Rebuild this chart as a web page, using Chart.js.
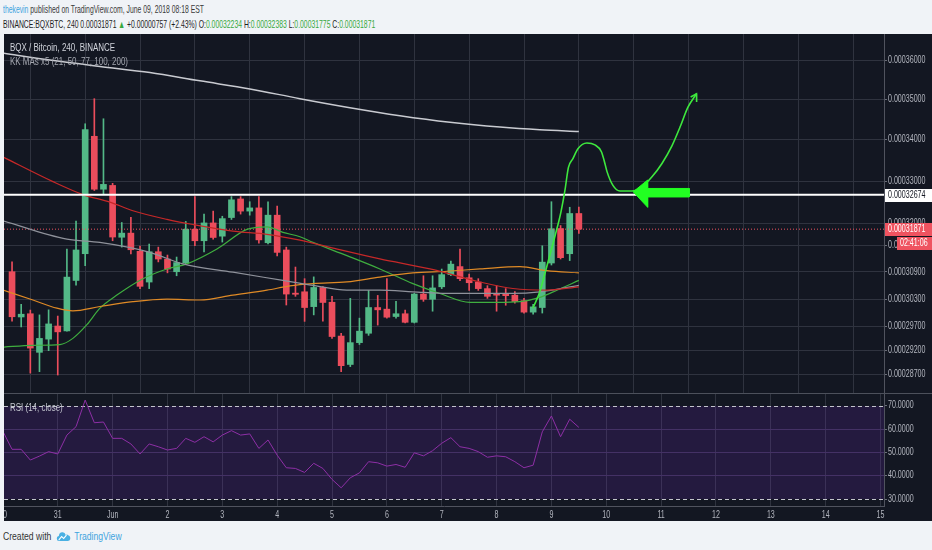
<!DOCTYPE html>
<html>
<head>
<meta charset="utf-8">
<script src="https://cdn.jsdelivr.net/npm/chart.js@4.4.0/dist/chart.umd.min.js"></script>
<style>
  html, body { margin: 0; padding: 0; }
  body {
    width: 932px; height: 550px; position: relative; overflow: hidden;
    background: #f0f3f7;
    font-family: "Liberation Sans", Arial, sans-serif;
  }
  .narrow { transform-origin: 0 0; white-space: nowrap; position: absolute; }
  #head1 { left: 3px; top: 3px; font-size: 10.5px; color: #3a3a3a; transform: scaleX(0.65); }
  #head1 .user { color: #3ea3de; }
  #head2 { left: 3px; top: 18px; font-size: 10.5px; color: #1e1e1e; transform: scaleX(0.65); }
  #head2 .g { color: #37a940; }
  #pane { position: absolute; left: 4px; top: 34px; width: 928px; height: 487px; background: #131722; }
  #mainChart { position: absolute; left: 0; top: 0; }
  #rsiChart { position: absolute; left: 0; top: 359px; }
  #sep { position: absolute; left: 0; top: 359px; width: 928px; height: 1px; background: #4c505b; }
  .plabel { left: 6px; font-size: 10.5px; transform: scaleX(0.76); }
  #foot { left: 3px; top: 530px; font-size: 10.5px; color: #333; display: flex; align-items: center; transform: scaleX(0.82); }
  #foot .tv { color: #3ea3de; }
</style>
</head>
<body>
<div id="head1" class="narrow"><span class="user">thekevin</span> published on TradingView.com, June 09, 2018 08:18 EST</div>
<div id="head2" class="narrow"></div>
<div id="pane">
  <canvas id="mainChart" width="928" height="359"></canvas>
  <canvas id="rsiChart" width="928" height="128"></canvas>
  <div id="sep"></div>
  <div class="plabel narrow" style="top:7px;color:#d1d4dc">BQX / Bitcoin, 240, BINANCE</div>
  <div class="plabel narrow" style="top:21px;color:#a3a6af">KK MAs x5 (21, 50, 77, 100, 200)</div>
  <div class="plabel narrow" style="top:367px;color:#c3c6cf">RSI (14, close)</div>
</div>
<div id="foot" class="narrow">Created with&nbsp;
  <svg width="18" height="11" viewBox="0 0 17 11" style="margin:0 4px 0 3px"><path d="M3 10 Q0 10 0 7.5 Q0 5 2.6 5 Q3 1 7 1.2 Q10 1 11 4 Q12.5 3 14 4.2 Q17 5 16.5 8 Q16 10 13.5 10 Z" fill="#49b0e3"/><path d="M2.5 9 L6 5.5 L8.5 7.5 L12 4" stroke="#fff" stroke-width="1.2" fill="none"/></svg>
  <span class="tv">TradingView</span></div>
<script>
document.addEventListener('DOMContentLoaded', function() {

// 4h bars, counted from 30 May 00:00; prices in satoshi (1e-8 BTC)
const barsPerDay = 6;
const firstBar = 1;
const opens = [30905, 29910, 29980, 29155, 29435, 29715, 29610, 30710, 31310, 34085, 32805, 32895, 31685, 31780, 31365, 30675, 31355, 31190, 30905, 31100, 31870, 31605, 32015, 31710, 32140, 32575, 32290, 32365, 31560, 32195, 31395, 30430, 30460, 30135, 30555, 30230, 29500, 28900, 29360, 29560, 30115, 30080, 29920, 29980, 29795, 30410, 30295, 30570, 30840, 31020, 30770, 30675, 30530, 30420, 30420, 30385, 30265, 30015, 30115, 31100, 31885, 31310, 32234];
const highs = [31125, 30185, 30060, 29955, 30065, 29930, 31415, 32055, 34395, 35025, 34520, 32945, 32025, 32145, 31485, 31530, 31460, 31280, 31235, 32050, 32630, 32220, 32290, 32170, 32630, 32630, 32510, 32630, 32510, 32410, 31460, 31010, 30750, 30790, 30575, 30360, 29560, 30315, 29885, 30490, 30380, 30750, 30250, 30060, 30425, 30815, 30815, 30965, 31145, 31415, 30855, 30750, 30595, 30595, 30530, 30465, 30315, 30185, 31490, 32510, 31955, 32380, 32383];
const lows = [29820, 29695, 28720, 28750, 29190, 28680, 29605, 30605, 31040, 32775, 32700, 31605, 31460, 31305, 30530, 30530, 31125, 30880, 30815, 31080, 31490, 31350, 31640, 31575, 32095, 32220, 32195, 31550, 31530, 31260, 30170, 30360, 29815, 29955, 29820, 29450, 28750, 28855, 29320, 29515, 29735, 29885, 29885, 29780, 29780, 30250, 30035, 30530, 30815, 30705, 30490, 30490, 30315, 30035, 30165, 30210, 29995, 29970, 29995, 31055, 31190, 31155, 31775];
const closes = [29915, 29970, 29245, 29450, 29760, 29590, 30785, 31395, 34250, 32805, 32920, 31690, 31780, 31400, 30580, 31355, 31190, 30965, 31110, 31870, 31605, 32015, 31680, 32115, 32555, 32290, 32365, 31625, 32195, 31340, 30410, 30405, 30115, 30555, 30225, 29490, 28875, 29360, 29605, 30115, 30065, 29905, 29980, 29795, 30410, 30295, 30545, 30840, 31075, 30750, 30660, 30530, 30360, 30385, 30375, 30245, 30015, 30130, 31120, 31880, 31220, 32234, 31871];

// moving averages, read at points along each line (x in days from 30 May)
const ma200Days = [0, 0.857, 1.769, 2.680, 3.592, 4.503, 5.415, 6.326, 7.238, 8.150, 9.061, 9.790, 10.5];
const ma200 = [36200, 36017, 35851, 35694, 35479, 35273, 35025, 34798, 34597, 34433, 34312, 34244, 34201];
const ma100Days = [0, 0.912, 1.459, 1.951, 2.370, 2.990, 3.464, 4.193, 4.813, 5.415, 5.962, 6.873, 7.785, 8.697, 9.298, 9.918, 10.5];
const ma100 = [33580, 32985, 32678, 32501, 32298, 32097, 31978, 31827, 31753, 31618, 31454, 31192, 30967, 30677, 30532, 30495, 30569];
const ma77Days = [0, 1.167, 1.769, 2.680, 3.282, 4.193, 5.105, 5.652, 6.272, 6.873, 7.475, 8.095, 9.298, 9.790, 10.5];
const ma77 = [32065, 31641, 31567, 31342, 31080, 30894, 30712, 30603, 30495, 30495, 30460, 30423, 30423, 30460, 30603];
const ma50Days = [0, 0.547, 0.985, 1.276, 1.769, 2.370, 2.990, 3.592, 4.193, 4.813, 5.232, 5.652, 6.272, 6.873, 7.475, 8.095, 8.697, 9.426, 9.918, 10.5];
const ma50 = [30500, 30279, 30101, 30043, 30137, 30244, 30300, 30279, 30387, 30495, 30590, 30640, 30677, 30785, 30878, 30916, 30967, 31019, 30929, 30878];
const ma21Days = [0, 0.547, 1.039, 1.276, 1.531, 1.769, 2.078, 2.552, 2.990, 3.355, 3.902, 4.448, 4.813, 5.105, 5.415, 5.652, 6.272, 6.873, 7.475, 7.967, 8.514, 9.006, 9.426, 9.790, 10.100, 10.5];
const ma21 = [29265, 29303, 29318, 29451, 29743, 30101, 30387, 30748, 30967, 31080, 31416, 31865, 31926, 31798, 31697, 31567, 31266, 30967, 30640, 30423, 30229, 30229, 30244, 30337, 30495, 30712];

// hand drawn forecast
const sketchDays = [9.663, 9.790, 9.918, 10.064, 10.173, 10.246, 10.310, 10.392, 10.483, 10.647, 10.793, 10.911, 10.975, 11.012, 11.121, 11.249, 11.468, 11.650, 11.833, 12.015, 12.197, 12.343, 12.489, 12.644];
const sketchPrices = [30101, 30467, 31035, 31708, 32267, 32775, 33326, 33541, 33779, 33921, 33874, 33707, 33422, 33231, 32896, 32763, 32763, 32860, 33100, 33422, 33850, 34307, 34811, 35149];
const headDays = [12.538, 12.644, 12.647];
const headPrices = [35067, 35149, 34942];
const arrowDays = [11.491, 11.754, 11.754, 12.512, 12.512, 11.754, 11.754, 11.491];
const arrowPrices = [32743, 33024, 32823, 32823, 32622, 32622, 32380, 32743];

const levelPrice = 32674;
const countdown = '02:41:06';
const dayChange = '+0.00000757 (+2.43%)';

// RSI(14), one value per bar from 30 May 00:00
const rsi = [59.0, 51.3, 51.3, 46.7, 48.4, 50.3, 49.3, 57.4, 61.0, 72.4, 62.7, 63.0, 56.0, 56.0, 53.6, 49.3, 53.6, 52.4, 51.0, 51.7, 56.0, 54.3, 56.7, 54.5, 57.4, 59.3, 57.4, 57.9, 51.7, 55.3, 48.8, 43.4, 43.1, 41.4, 45.3, 43.1, 38.4, 34.8, 39.1, 41.2, 46.0, 45.5, 44.1, 44.8, 43.6, 49.8, 48.5, 50.7, 53.9, 56.3, 52.4, 51.7, 50.3, 47.9, 48.5, 48.1, 46.0, 43.4, 44.5, 58.8, 65.6, 56.7, 64.2, 60.7];
const rsiUpper = 70;
const rsiLower = 30;

const dayLabels = ['30', '31', 'Jun', '2', '3', '4', '5', '6', '7', '8', '9', '10', '11', '12', '13', '14', '15'];
const priceTicks = [28700, 29200, 29700, 30300, 30900, 31500, 32000, 33000, 34000, 35000, 36000];
const rsiTicks = [30, 40, 50, 60, 70];

const dayMin = 0.02, dayMax = 16.063;
const priceMin = 28310, priceMax = 36702;
const rsiMin = 27.0, rsiMax = 75.44;

const upColor = '#53b987';
const downColor = '#eb4d5c';
const gridColor = '#2f333f';
const borderColor = '#50535e';
const tickColor = '#b2b5be';
const labelFont = '10px "Liberation Sans", Arial, sans-serif';
const squeeze = 0.71;

const fmtPrice = v => (v * 1e-8).toFixed(8);
const last = closes.length - 1;

document.getElementById('head2').innerHTML =
  'BINANCE:BQXBTC, 240 ' + fmtPrice(closes[last]) + ' <span class="g">&#9650;</span> ' + dayChange +
  ' O:<span class="g">' + fmtPrice(opens[last]) + '</span>' +
  ' H:<span class="g">' + fmtPrice(highs[last]) + '</span>' +
  ' L:<span class="g">' + fmtPrice(lows[last]) + '</span>' +
  ' C:<span class="g">' + fmtPrice(closes[last]) + '</span>';

const barDay = i => (firstBar + i) / barsPerDay;
const candleColors = closes.map((c, i) => c >= opens[i] ? upColor : downColor);
const pts = (xs, ys) => xs.map((x, i) => ({ x: x, y: ys[i] }));
const maLine = (xs, ys, color, width) => ({
  type: 'line', data: pts(xs, ys), borderColor: color, borderWidth: width,
  pointRadius: 0, tension: 0.3, cubicInterpolationMode: 'monotone'
});

// narrow text, like the condensed TradingView axis font
function narrowText(ctx, text, x, y, align) {
  ctx.save();
  ctx.translate(x, y);
  ctx.scale(squeeze, 1);
  ctx.textAlign = align || 'left';
  ctx.fillText(text, 0, 0);
  ctx.restore();
}

function drawAxisLabels(chart, fmt) {
  const { ctx, scales: { x, y }, chartArea: a } = chart;
  ctx.save();
  ctx.font = labelFont;
  ctx.fillStyle = tickColor;
  ctx.textBaseline = 'middle';
  y.ticks.forEach(t => narrowText(ctx, fmt(t.value), y.left + 4, y.getPixelForValue(t.value)));
  if (x.options.ticks.showLabels) {
    x.ticks.forEach(t => narrowText(ctx, dayLabels[t.value], x.getPixelForValue(t.value), a.bottom + 9, 'center'));
  }
  ctx.restore();
}

const xAxis = showLabels => ({
  type: 'linear', min: dayMin, max: dayMax, bounds: 'data', offset: false,
  afterBuildTicks: s => { s.ticks = dayLabels.map((_, d) => ({ value: d })); },
  afterFit: s => { s.paddingLeft = 0; s.paddingRight = 0; s.height = showLabels ? 15 : 0; },
  grid: { color: gridColor, drawTicks: false },
  border: { display: showLabels, color: borderColor },
  ticks: { display: false, showLabels: showLabels }
});

const yAxis = (type, min, max, ticks) => ({
  type: type, position: 'right', min: min, max: max, bounds: 'data',
  afterBuildTicks: s => { s.ticks = ticks.map(v => ({ value: v })); },
  afterFit: s => { s.width = 48; s.paddingTop = 0; s.paddingBottom = 0; },
  grid: { color: gridColor, tickColor: '#6a6d78', tickLength: 3 },
  border: { color: borderColor },
  ticks: { display: false }
});

const priceAxis = {
  id: 'priceAxis',
  afterDraw(chart) {
    drawAxisLabels(chart, fmtPrice);
    const { ctx, chartArea: a, scales: { y }, width } = chart;
    const tag = (value, x0, bg, fg, text, dy) => {
      const py = Math.round(y.getPixelForValue(value)) + dy;
      ctx.fillStyle = bg;
      ctx.fillRect(x0, py - 6, width - x0, 13);
      ctx.fillStyle = fg;
      narrowText(ctx, text, x0 + 3, py + 0.5);
    };
    ctx.save();
    ctx.font = labelFont;
    ctx.textBaseline = 'middle';
    tag(levelPrice, a.right + 1, '#ffffff', '#131722', fmtPrice(levelPrice), 0);
    tag(closes[last], a.right + 1, '#ef5360', '#ffffff', fmtPrice(closes[last]), 0);
    tag(closes[last], a.right + 13, '#ef5360', '#ffffff', countdown, 14);
    ctx.restore();
  }
};

new Chart(document.getElementById('mainChart').getContext('2d'), {
  type: 'line',
  data: {
    datasets: [
      { data: pts(arrowDays, arrowPrices), borderColor: '#22ff22', backgroundColor: '#22ff22',
        borderWidth: 1, fill: 'shape', pointRadius: 0, tension: 0 },
      { data: pts(sketchDays, sketchPrices), borderColor: '#3ee83e', borderWidth: 1.6,
        pointRadius: 0, tension: 0.4, cubicInterpolationMode: 'monotone' },
      { data: pts(headDays, headPrices), borderColor: '#3ee83e', borderWidth: 1.6, pointRadius: 0 },
      { data: pts([dayMin, dayMax], [levelPrice, levelPrice]), borderColor: '#ffffff', borderWidth: 2, pointRadius: 0 },
      maLine(ma200Days, ma200, '#c9cbd1', 1.5),
      maLine(ma100Days, ma100, '#c62828', 1.2),
      maLine(ma77Days, ma77, '#8f929b', 1.2),
      maLine(ma50Days, ma50, '#df8a26', 1.2),
      maLine(ma21Days, ma21, '#3fae3f', 1.2),
      { data: pts([dayMin, dayMax], [closes[last], closes[last]]), borderColor: '#ef5360', borderWidth: 1,
        borderDash: [1, 2], pointRadius: 0 },
      { type: 'bar', data: closes.map((c, i) => ({ x: barDay(i), y: [opens[i], c] })),
        backgroundColor: candleColors, barThickness: 6, minBarLength: 1, grouped: false, borderWidth: 0 },
      { type: 'bar', data: closes.map((c, i) => ({ x: barDay(i), y: [lows[i], highs[i]] })),
        backgroundColor: candleColors, barThickness: 1, grouped: false, borderWidth: 0 }
    ]
  },
  options: {
    responsive: false, animation: false,
    layout: { padding: 0, autoPadding: false },
    plugins: { legend: { display: false }, tooltip: { enabled: false } },
    scales: {
      x: xAxis(false),
      y: yAxis('logarithmic', priceMin, priceMax, priceTicks)
    }
  },
  plugins: [priceAxis]
});

const rsiBand = {
  id: 'rsiBand',
  beforeDatasetsDraw(chart) {
    const { ctx, chartArea: a, scales: { y } } = chart;
    const top = Math.round(y.getPixelForValue(rsiUpper));
    const bot = Math.round(y.getPixelForValue(rsiLower));
    ctx.save();
    ctx.fillStyle = 'rgba(110, 44, 190, 0.19)';
    ctx.fillRect(a.left, top, a.right - a.left, bot - top);
    ctx.strokeStyle = '#c3c4cc';
    ctx.lineWidth = 1;
    ctx.setLineDash([4, 3]);
    [top, bot].forEach(py => {
      ctx.beginPath();
      ctx.moveTo(a.left, py + 0.5);
      ctx.lineTo(a.right, py + 0.5);
      ctx.stroke();
    });
    ctx.restore();
  },
  afterDraw(chart) {
    drawAxisLabels(chart, v => v.toFixed(4));
  }
};

const rsiY = yAxis('linear', rsiMin, rsiMax, rsiTicks);
rsiY.grid.color = c => (c.tick && (c.tick.value === rsiUpper || c.tick.value === rsiLower)) ? 'rgba(0,0,0,0)' : '#3a3350';

new Chart(document.getElementById('rsiChart').getContext('2d'), {
  type: 'line',
  data: {
    datasets: [{
      data: rsi.map((v, i) => ({ x: i / barsPerDay, y: v })),
      borderColor: '#8e2fa6', borderWidth: 1, pointRadius: 0, tension: 0
    }]
  },
  options: {
    responsive: false, animation: false,
    layout: { padding: 0, autoPadding: false },
    plugins: { legend: { display: false }, tooltip: { enabled: false } },
    scales: { x: xAxis(true), y: rsiY }
  },
  plugins: [rsiBand]
});

});
</script>
</body>
</html>
